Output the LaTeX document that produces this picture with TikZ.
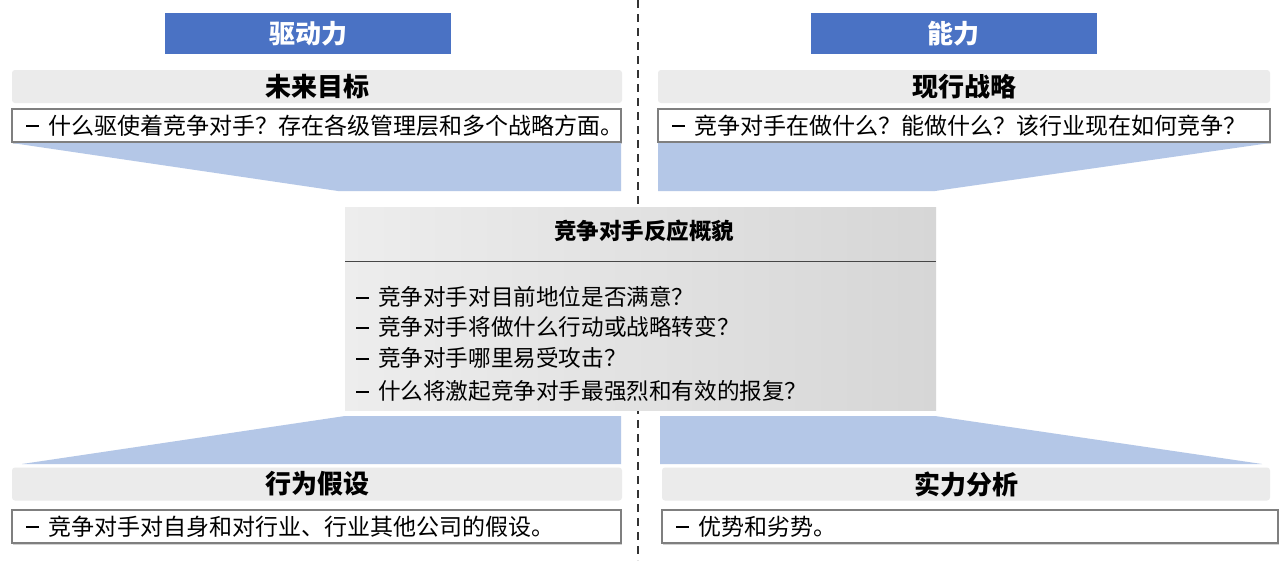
\documentclass[tikz,border=0pt]{standalone}
\usepackage{fontspec}
\setmainfont{Noto Sans CJK SC}
\usetikzlibrary{shadows}
\definecolor{blueA}{HTML}{4A72C4}
\definecolor{trap}{HTML}{B4C7E7}
\definecolor{hdr}{HTML}{EBEBEB}
\definecolor{bordc}{HTML}{7F7F7F}
\definecolor{ctrL}{HTML}{EDEDED}
\definecolor{ctrR}{HTML}{D6D6D6}
\definecolor{dashc}{HTML}{333333}
\newcommand{\dsh}{\rule[0.3em]{0.58em}{0.09em}\hspace{0.4em}}
\begin{document}
\begin{tikzpicture}[x=1pt,y=-1pt,
  every node/.style={inner sep=0pt, outer sep=0pt},
  tagbox/.style={fill=blueA, minimum width=286pt, minimum height=41pt, text=white, font=\bfseries\fontsize{26}{30}\selectfont},
  hdrbox/.style={fill=hdr, rounded corners=3pt, minimum height=33pt, font=\bfseries\fontsize{26}{30}\selectfont},
  txtbox/.style={fill=white, draw=bordc, line width=1.1pt, minimum height=33pt, inner xsep=14pt, align=left, anchor=north west, font=\fontsize{23}{26}\selectfont, drop shadow={shadow xshift=0.5pt, shadow yshift=-1.5pt, opacity=0.35}},
  bul/.style={anchor=west, font=\fontsize{22.6}{26}\selectfont},
  trapfill/.style={fill=trap},
  ]
\useasboundingbox (0,0) rectangle (1282,560);
\fill[white] (0,0) rectangle (1282,560);
% dashed divider
\draw[dashc, line width=2pt, dash pattern=on 8pt off 6pt] (638,0) -- (638,560);

% top tags
\node[tagbox] (tag1) at (308,33.5) {驱动力};
\node[tagbox] (tag2) at (953.5,33.5) {能力};

% top headers
\node[hdrbox, minimum width=610pt] (h1) at (317,86.5) {未来目标};
\node[hdrbox, minimum width=612pt] (h2) at (964,86.5) {现行战略};

% top text boxes
\node[txtbox, text width=581pt] (t1) at (12,109) {\dsh 什么驱使着竞争对手？存在各级管理层和多个战略方面。};
\node[txtbox, text width=584pt] (t2) at (658,109) {\dsh 竞争对手在做什么？能做什么？该行业现在如何竞争？};

% top trapezoids
\fill[trapfill] (12,143) -- (621,143) -- (621,191) -- (338,191) -- cycle;
\fill[trapfill] (658,143) -- (1270,143) -- (935,191) -- (658,191) -- cycle;

% bottom trapezoids
\fill[trapfill] (345,416) -- (621,416) -- (621,464) -- (22,464) -- cycle;
\fill[trapfill] (660,416) -- (935,416) -- (1262,464) -- (660,464) -- cycle;

% center box
\node[anchor=north west, minimum width=591pt, minimum height=203pt, left color=ctrL, right color=ctrR] (ctr) at (345,207) {};
\node[font=\bfseries\fontsize{22.5}{26}\selectfont] (ctitle) at (644,231) {竞争对手反应概貌};
\draw[gray!55!black, line width=1pt] (ctr.west |- 0,261) -- (ctr.east |- 0,261);
\node[bul] (b1) at (356,297) {\dsh 竞争对手对目前地位是否满意？};
\node[bul] (b2) at (356,327) {\dsh 竞争对手将做什么行动或战略转变？};
\node[bul] (b3) at (356,358) {\dsh 竞争对手哪里易受攻击？};
\node[bul] (b4) at (356,391) {\dsh 什么将激起竞争对手最强烈和有效的报复？};

% bottom headers
\node[hdrbox, minimum width=610pt] (h3) at (317,484) {行为假设};
\node[hdrbox, minimum width=608pt] (h4) at (966,484) {实力分析};

% bottom text boxes
\node[txtbox, text width=581pt] (t3) at (12,510) {\dsh 竞争对手对自身和对行业、行业其他公司的假设。};
\node[txtbox, text width=588pt] (t4) at (662,510) {\dsh 优势和劣势。};
\end{tikzpicture}
\end{document}
